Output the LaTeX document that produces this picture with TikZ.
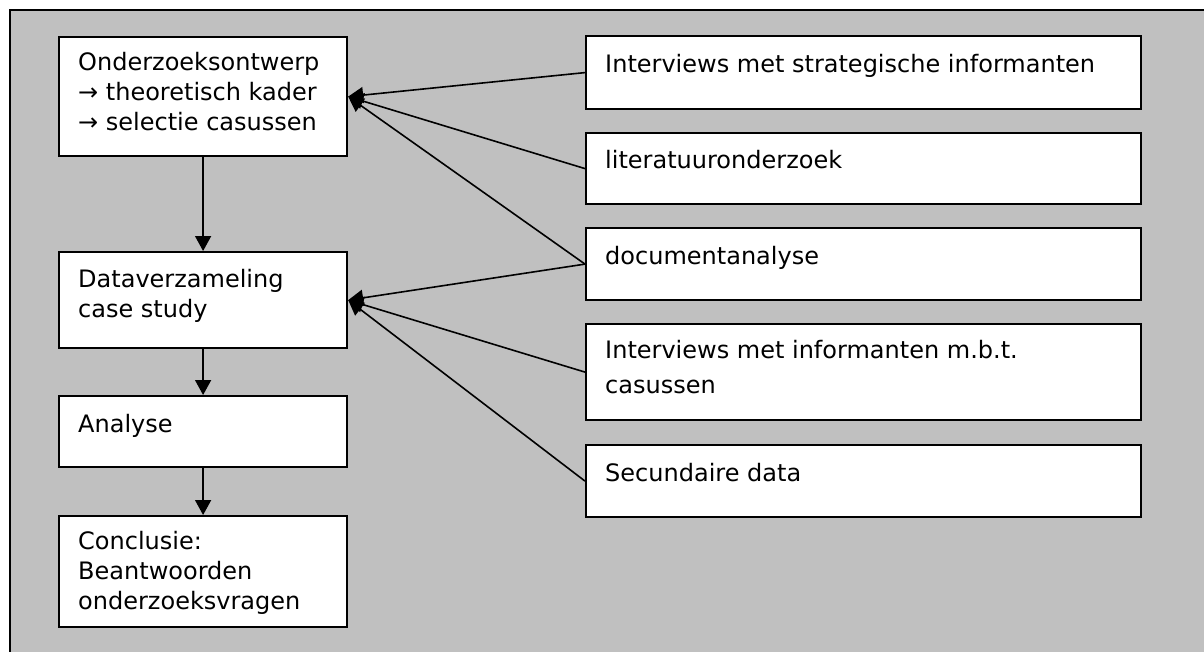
\documentclass[tikz,border=0pt]{standalone}
\usepackage{fontspec}
\setmainfont{DejaVu Sans}
\usetikzlibrary{arrows.meta,calc}
\definecolor{bg}{RGB}{192,192,192}
\begin{document}
\begin{tikzpicture}[x=1pt,y=-1pt,
  box/.style={draw=black, line width=2.2pt, fill=white, inner sep=0pt, anchor=north west},
  lbl/.style={anchor=base west, inner sep=0pt, font=\fontsize{24}{30}\selectfont},
  arr/.style={line width=1.6pt, -{Triangle[length=15pt,width=16pt]}}]
\useasboundingbox (0,0) rectangle (1204,651);
\fill[bg] (10,10) rectangle (1215,665);
\draw[line width=2.2pt] (10,665) -- (10,10) -- (1215,10);

% left column
\node[box, minimum width=288pt, minimum height=119pt] (b1) at (58,36) {};
\node[box, minimum width=288pt, minimum height=96pt] (b2) at (58,251) {};
\node[box, minimum width=288pt, minimum height=71pt] (b3) at (58,395) {};
\node[box, minimum width=288pt, minimum height=111pt] (b4) at (58,515) {};

% right column
\node[box, minimum width=555pt, minimum height=73pt] (r1) at (585,35) {};
\node[box, minimum width=555pt, minimum height=71pt] (r2) at (585,132) {};
\node[box, minimum width=555pt, minimum height=72pt] (r3) at (585,227) {};
\node[box, minimum width=555pt, minimum height=96pt] (r4) at (585,323) {};
\node[box, minimum width=555pt, minimum height=72pt] (r5) at (585,444) {};

% texts
\node[lbl] (t1) at ($(b1.north west)+(20,34)$) {\parbox[t]{260pt}{Onderzoeksontwerp\\→ theoretisch kader\\→ selectie casussen}};
\node[lbl] (t2) at ($(b2.north west)+(20,36)$) {\parbox[t]{260pt}{Dataverzameling\\case study}};
\node[lbl] (t3) at ($(b3.north west)+(20,37)$) {Analyse};
\node[lbl] (t4) at ($(b4.north west)+(20,34)$) {\parbox[t]{260pt}{Conclusie:\\Beantwoorden\\onderzoeksvragen}};
\node[lbl] (s1) at ($(r1.north west)+(20,37)$) {Interviews met strategische informanten};
\node[lbl] (s2) at ($(r2.north west)+(20,36)$) {literatuuronderzoek};
\node[lbl] (s3) at ($(r3.north west)+(20,37)$) {documentanalyse};
\node[lbl, font=\fontsize{24}{35}\selectfont] (s4) at ($(r4.north west)+(20,35)$) {\parbox[t]{520pt}{Interviews met informanten m.b.t.\\casussen}};
\node[lbl] (s5) at ($(r5.north west)+(20,37)$) {Secundaire data};

% arrows
\draw[arr] (b1.south) -- (b2.north);
\draw[arr] (b2.south) -- (b3.north);
\draw[arr] (b3.south) -- (b4.north);
\draw[arr] (r1.west) -- (b1.east);
\draw[arr] (r2.west) -- (b1.east);
\draw[arr] (r3.west) -- (b1.east);
\draw[arr] (r3.west) -- (b2.east);
\draw[arr] (r4.west) -- (b2.east);
\draw[arr] (r5.west) -- (b2.east);
\end{tikzpicture}
\end{document}
